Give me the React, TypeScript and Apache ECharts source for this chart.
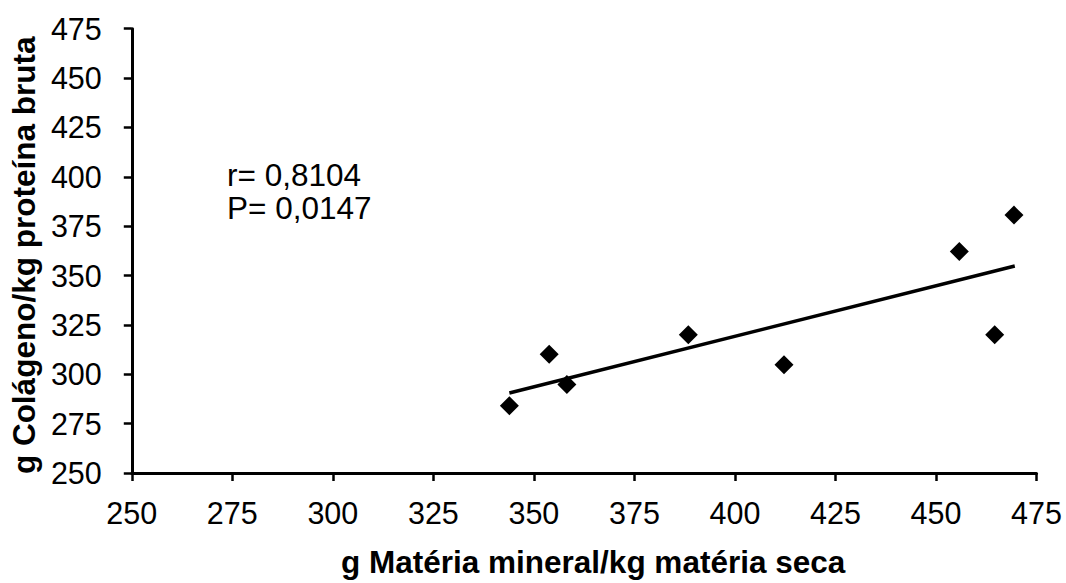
import React, { useEffect, useRef } from "react";
import * as echarts from "echarts";

const xTitle = "g Matéria mineral/kg matéria seca";
const yTitle = "g Colágeno/kg proteína bruta";
const mineral = [343.9, 353.8, 358.2, 388.4, 412.2, 455.8, 464.6, 469.4];
const colageno = [284.0, 310.1, 294.8, 320.0, 304.8, 362.2, 320.0, 380.6];
const trendX = [343.9, 469.6];
const trendY = [290.5, 354.8];
const statsText = ["r= 0,8104", "P= 0,0147"];

const FONT = "Liberation Sans, Arial, sans-serif";

export default function App() {
  const ref = useRef<HTMLDivElement>(null);
  useEffect(() => {
    document.body.style.margin = "0";
    const chart = echarts.init(ref.current!, null, { renderer: "svg" });
    const points = mineral.map((x, i) => [x, colageno[i]]);
    const trend = trendX.map((x, i) => [x, trendY[i]]);
    const axisCommon = {
      type: "value" as const,
      min: 250,
      max: 475,
      interval: 25,
      splitLine: { show: false },
      axisLine: { show: true, lineStyle: { color: "#000", width: 3 } },
      axisTick: { show: true, length: 8, inside: false, lineStyle: { color: "#000", width: 2.5 } },
      axisLabel: { color: "#000", fontSize: 30.5, fontFamily: FONT },
      nameLocation: "middle" as const,
    };
    const nameStyle = { color: "#000", fontSize: 31.5, fontWeight: "bold" as const, fontFamily: FONT };
    chart.setOption({
      animation: false,
      backgroundColor: "#fff",
      grid: { left: 131.7, right: 29.5, top: 28.7, bottom: 102.3, containLabel: false },
      xAxis: {
        ...axisCommon,
        name: xTitle,
        nameGap: 73,
        nameTextStyle: { ...nameStyle, padding: [0, 0, 0, 18] },
        axisLabel: { ...axisCommon.axisLabel, margin: 24 },
      },
      yAxis: {
        ...axisCommon,
        name: yTitle,
        nameGap: 90,
        nameTextStyle: { ...nameStyle, padding: [0, 9, 0, 0] },
        axisLabel: { ...axisCommon.axisLabel, margin: 30 },
      },
      graphic: [
        {
          type: "text",
          left: 227,
          top: 158,
          style: {
            text: statsText.join("\n"),
            fontSize: 31.5,
            fontFamily: FONT,
            fill: "#000",
            align: "center",
            lineHeight: 33,
          },
        },
      ],
      series: [
        {
          type: "scatter",
          data: points,
          symbol: "diamond",
          symbolSize: 19,
          itemStyle: { color: "#000", opacity: 1 },
          z: 3,
        },
        {
          type: "line",
          data: trend,
          showSymbol: false,
          symbol: "none",
          lineStyle: { color: "#000", width: 3.5 },
          z: 2,
        },
      ],
    });
    return () => chart.dispose();
  }, []);
  return <div ref={ref} style={{ width: 1066, height: 583 }} />;
}
